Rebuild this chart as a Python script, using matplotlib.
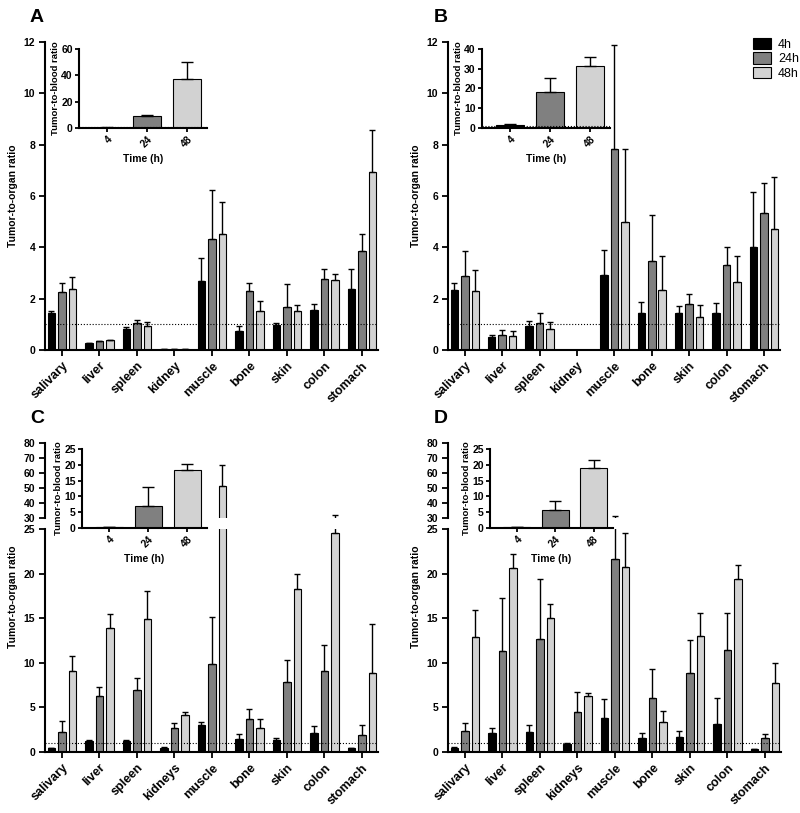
import numpy as np
import matplotlib
matplotlib.use("Agg")
import matplotlib.pyplot as plt
from matplotlib.patches import Patch

plt.rcParams['font.family'] = ['Liberation Sans', 'DejaVu Sans']

# organs on the x axis
organs_ab = ["salivary", "liver", "spleen", "kidney", "muscle", "bone", "skin", "colon", "stomach"]
organs_cd = ["salivary", "liver", "spleen", "kidneys", "muscle", "bone", "skin", "colon", "stomach"]
times = ["4h", "24h", "48h"]
inset_ticks = ["4", "24", "48"]

# panel A (mean, upper error)
a_4h = [1.45, 0.27, 0.80, 0.02, 2.70, 0.73, 0.98, 1.57, 2.38]
a_4h_sd = [0.05, 0.02, 0.10, 0.0, 0.90, 0.19, 0.07, 0.21, 0.77]
a_24h = [2.27, 0.35, 1.05, 0.02, 4.33, 2.30, 1.68, 2.76, 3.87]
a_24h_sd = [0.35, 0.02, 0.10, 0.0, 1.92, 0.30, 0.89, 0.39, 0.63]
a_48h = [2.36, 0.38, 0.93, 0.02, 4.50, 1.52, 1.52, 2.73, 6.93]
a_48h_sd = [0.49, 0.02, 0.15, 0.0, 1.25, 0.40, 0.23, 0.24, 1.64]
a_blood = [0.3, 8.8, 37.0]
a_blood_sd = [0.1, 1.2, 13.0]

# panel B
b_4h = [2.33, 0.50, 0.93, 0.0, 2.92, 1.45, 1.43, 1.43, 4.03]
b_4h_sd = [0.27, 0.08, 0.20, 0.0, 0.98, 0.42, 0.27, 0.40, 2.12]
b_24h = [2.90, 0.57, 1.07, 0.0, 7.85, 3.47, 1.78, 3.32, 5.32]
b_24h_sd = [0.97, 0.20, 0.38, 0.0, 4.05, 1.78, 0.40, 0.70, 1.18]
b_48h = [2.28, 0.53, 0.80, 0.0, 4.98, 2.35, 1.30, 2.63, 4.73]
b_48h_sd = [0.82, 0.20, 0.28, 0.0, 2.84, 1.32, 0.45, 1.04, 2.02]
b_blood = [1.35, 18.2, 31.5]
b_blood_sd = [0.5, 7.1, 4.4]

# panel C
c_4h = [0.40, 1.20, 1.20, 0.50, 3.05, 1.45, 1.40, 2.15, 0.40]
c_4h_sd = [0.05, 0.10, 0.10, 0.05, 0.30, 0.55, 0.15, 0.75, 0.05]
c_24h = [2.25, 6.25, 7.00, 2.70, 9.90, 3.75, 7.85, 9.05, 1.95]
c_24h_sd = [1.25, 1.05, 1.30, 0.55, 5.25, 1.05, 2.45, 2.90, 1.05]
c_48h = [9.05, 13.95, 14.90, 4.20, 51.6, 2.65, 18.30, 24.6, 8.85]
c_48h_sd = [1.75, 1.50, 3.15, 0.25, 14.0, 1.00, 1.70, 7.4, 5.45]
c_blood = [0.4, 6.85, 18.25]
c_blood_sd = [0.05, 6.0, 2.0]

# panel D
d_4h = [0.40, 2.10, 2.20, 0.95, 3.85, 1.55, 1.70, 3.15, 0.30]
d_4h_sd = [0.15, 0.55, 0.80, 0.05, 2.10, 0.60, 0.60, 2.90, 0.05]
d_24h = [2.30, 11.35, 12.65, 4.45, 21.6, 6.00, 8.90, 11.45, 1.55]
d_24h_sd = [0.90, 5.90, 6.80, 2.30, 9.9, 3.25, 3.65, 4.15, 0.50]
d_48h = [12.85, 20.65, 15.00, 6.25, 20.75, 3.35, 12.95, 19.35, 7.70]
d_48h_sd = [3.05, 1.55, 1.60, 0.35, 3.85, 1.30, 2.60, 1.65, 2.30]
d_blood = [0.4, 5.8, 19.0]
d_blood_sd = [0.05, 2.85, 2.6]

colors = ["#000000", "#808080", "#d2d2d2"]

W, H = 800, 813
fig = plt.figure(figsize=(8, 8.13), dpi=100)


def px(l, r, top, bot):
    return [l / W, 1 - bot / H, (r - l) / W, (bot - top) / H]


def style(ax, size=7.5, length=4, pad=3):
    for s in ["top", "right"]:
        ax.spines[s].set_visible(False)
    for s in ["left", "bottom"]:
        ax.spines[s].set_linewidth(1.5)
    ax.tick_params(width=1.3, length=length, pad=pad, labelsize=size)
    for t in ax.get_yticklabels():
        t.set_fontweight("bold")


def draw_bars(ax, means, sds, xticklabels):
    x = np.arange(len(xticklabels))
    w = 0.2
    off = 0.28
    for i in range(3):
        m = np.array(means[i])
        e = np.array(sds[i])
        ax.bar(x + (i - 1) * off, m, w, color=colors[i], edgecolor="black",
               linewidth=0.8, yerr=[np.zeros_like(e), e],
               error_kw=dict(ecolor="black", elinewidth=1.0, capsize=2.2, capthick=1.0))
    ax.set_xlim(-0.45, 8.43)
    ax.set_xticks(x)


def xlabels(ax, labels):
    ax.set_xticklabels(labels, rotation=45, ha="right", rotation_mode="anchor",
                       fontweight="bold", fontsize=9)


def inset(rect, vals, sds, ymax, step, dotted):
    ax = fig.add_axes(px(*rect))
    ax.set_facecolor("none")
    x = np.arange(3)
    ax.bar(x, vals, 0.7, color=colors, edgecolor="black", linewidth=0.8,
           yerr=[np.zeros(3), sds],
           error_kw=dict(ecolor="black", elinewidth=1.0, capsize=4, capthick=1.0))
    if dotted:
        ax.axhline(1, ls=":", color="black", lw=0.8)
    ax.set_xlim(-0.7, 2.5)
    ax.set_ylim(0, ymax)
    ax.set_yticks(np.arange(0, ymax + 0.1, step))
    ax.set_xticks(x)
    style(ax, 7.5, length=3, pad=1.5)
    ax.set_xticklabels(inset_ticks, rotation=45, ha="right", rotation_mode="anchor",
                       fontweight="bold", fontsize=7.5)
    ax.set_xlabel("Time (h)", fontweight="bold", fontsize=7.5, labelpad=3)
    ax.set_ylabel("Tumor-to-blood ratio", fontweight="bold", fontsize=6.8, labelpad=1)
    return ax


def simple_panel(rect, means, sds, labels):
    ax = fig.add_axes(px(*rect))
    draw_bars(ax, means, sds, labels)
    ax.axhline(1, ls=":", color="black", lw=0.8)
    ax.set_ylim(0, 12)
    ax.set_yticks(range(0, 13, 2))
    style(ax)
    xlabels(ax, labels)
    return ax


def broken_panel(l, r, means, sds, labels):
    low = fig.add_axes(px(l, r, 529, 752))
    up = fig.add_axes(px(l, r, 443, 518), sharex=low)
    for ax in (low, up):
        draw_bars(ax, means, sds, labels)
        style(ax)
    low.axhline(1, ls=":", color="black", lw=0.8)
    low.set_ylim(0, 25)
    low.set_yticks(range(0, 26, 5))
    up.set_ylim(30, 80)
    up.set_yticks(range(30, 81, 10))
    up.spines["bottom"].set_visible(False)
    up.tick_params(axis="x", bottom=False, labelbottom=False)
    for t in up.get_yticklabels():
        t.set_fontweight("bold")
    xlabels(low, labels)
    return low, up


# panel A
axA = simple_panel((45, 378, 42, 350), [a_4h, a_24h, a_48h], [a_4h_sd, a_24h_sd, a_48h_sd], organs_ab)
inset((79, 207, 49, 128), a_blood, a_blood_sd, 60, 20, True)

# panel B
axB = simple_panel((448, 780, 42, 350), [b_4h, b_24h, b_48h], [b_4h_sd, b_24h_sd, b_48h_sd], organs_ab)
inset((482, 610, 49, 128), b_blood, b_blood_sd, 40, 10, True)

# panel C
broken_panel(45, 378, [c_4h, c_24h, c_48h], [c_4h_sd, c_24h_sd, c_48h_sd], organs_cd)
inset((82, 207, 449, 528), c_blood, c_blood_sd, 25, 5, False)

# panel D
broken_panel(448, 781, [d_4h, d_24h, d_48h], [d_4h_sd, d_24h_sd, d_48h_sd], organs_cd)
inset((490, 613, 449, 528), d_blood, d_blood_sd, 25, 5, False)

# y labels of the main plots
for xp, yp in [(13, 196), (416, 196), (13, 597), (416, 597)]:
    fig.text(xp / W, 1 - yp / H, "Tumor-to-organ ratio", rotation=90, ha="center",
             va="center", fontweight="bold", fontsize=7.5)

# panel letters
for lab, xp, yp in [("A", 30, 18), ("B", 434, 18), ("C", 30, 418), ("D", 434, 418)]:
    fig.text(xp / W, 1 - yp / H, lab, ha="left", va="center", fontweight="bold", fontsize=14)

handles = [Patch(facecolor=c, edgecolor="black", linewidth=0.8, label=t) for c, t in zip(colors, times)]
fig.legend(handles=handles, loc="upper left", bbox_to_anchor=(748 / W, 1 - 33 / H),
           frameon=False, fontsize=9, handlelength=1.4, handleheight=1.0,
           handletextpad=0.6, labelspacing=0.12, borderaxespad=0)

fig.savefig("out.png", dpi=100, facecolor="white")
